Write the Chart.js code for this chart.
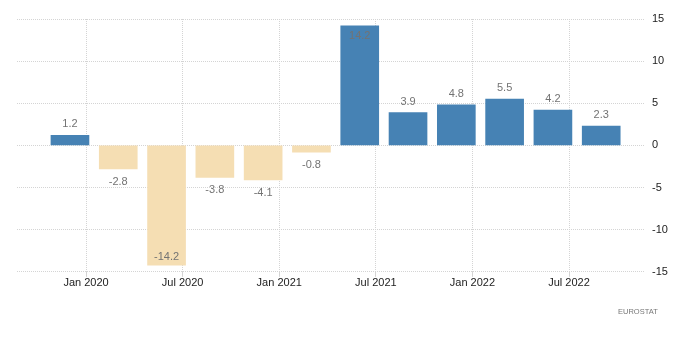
<!DOCTYPE html>
<html lang="en">
  <head>
    <meta charset="UTF-8" />
    <title>Quarterly change</title>
    <script src="https://cdn.jsdelivr.net/npm/chart.js"></script>
    <style>
      body { margin: 0; background: #fff; }
      #wrap { position: relative; width: 700px; height: 363px; }
      #source {
        position: absolute; left: 618px; top: 307px;
        font: 7.5px "Liberation Sans", Arial, sans-serif; color: #777;
      }
    </style>
  </head>
  <body>
    <div id="wrap">
      <canvas id="chart"></canvas>
      <div id="source">EUROSTAT</div>
    </div>

    <script>
      // Quarterly values, dated by the last month of each quarter
      const periods = ["2019-12", "2020-03", "2020-06", "2020-09", "2020-12", "2021-03",
                       "2021-06", "2021-09", "2021-12", "2022-03", "2022-06", "2022-09"];
      const values = [1.2, -2.8, -14.2, -3.8, -4.1, -0.8, 14.2, 3.9, 4.8, 5.5, 4.2, 2.3];

      // x axis labels
      const tickPeriods = ["2020-01", "2020-07", "2021-01", "2021-07", "2022-01", "2022-07"];
      const tickLabels = ["Jan 2020", "Jul 2020", "Jan 2021", "Jul 2021", "Jan 2022", "Jul 2022"];

      // months counted from Jan 2020
      function monthIndex(p) {
        const [y, m] = p.split("-").map(Number);
        return (y - 2020) * 12 + (m - 1);
      }
      const tickPos = tickPeriods.map(monthIndex);

      // value labels on the bars
      const valueLabels = {
        id: "valueLabels",
        afterDatasetsDraw(chart) {
          const ctx = chart.ctx;
          const area = chart.chartArea;
          const meta = chart.getDatasetMeta(0);
          ctx.save();
          ctx.font = '11px "Liberation Sans", Arial, sans-serif';
          ctx.fillStyle = "#737373";
          ctx.textAlign = "center";
          ctx.textBaseline = "middle";
          meta.data.forEach((bar, i) => {
            const v = values[i];
            let y;
            if (v >= 0) {
              y = bar.y - 11;
              if (y - 6 < area.top) y = bar.y + 10;
            } else {
              y = bar.y + 13;
              if (y + 6 > area.bottom) y = bar.y - 8;
            }
            ctx.fillText(v.toFixed(1), bar.x, y);
          });
          ctx.restore();
        },
      };

      const tickFont = { family: '"Liberation Sans", Arial, sans-serif', size: 11 };

      new Chart(document.getElementById("chart"), {
        type: "bar",
        data: {
          datasets: [
            {
              data: periods.map((p, i) => ({ x: monthIndex(p), y: values[i] })),
              backgroundColor: values.map((v) => (v >= 0 ? "#4682b4" : "#f5deb3")),
              barThickness: 38,
            },
          ],
        },
        plugins: [valueLabels],
        options: {
          responsive: true,
          maintainAspectRatio: false,
          animation: false,
          layout: { padding: { left: 17, top: 19, right: 22, bottom: 73 } },
          plugins: { legend: { display: false }, tooltip: { enabled: false } },
          scales: {
            x: {
              type: "linear",
              min: -4.29,
              max: 34.72,
              offset: false,
              afterBuildTicks: (scale) => {
                scale.ticks = tickPos.map((v) => ({ value: v }));
              },
              grid: { color: "#d4d4d4", tickLength: 5, offset: false },
              border: { display: false, dash: [1, 1] },
              ticks: {
                padding: 0,
                color: "#222",
                font: tickFont,
                maxRotation: 0,
                autoSkip: false,
                callback: (v) => tickLabels[tickPos.indexOf(v)],
              },
            },
            y: {
              position: "right",
              min: -15,
              max: 15,
              afterFit: (scale) => {
                scale.width = 33;
              },
              grid: { color: "#d4d4d4", drawTicks: false },
              border: { display: false, dash: [1, 1] },
              ticks: { stepSize: 5, padding: 7, color: "#222", font: tickFont },
            },
          },
        },
      });
    </script>
  </body>
</html>
